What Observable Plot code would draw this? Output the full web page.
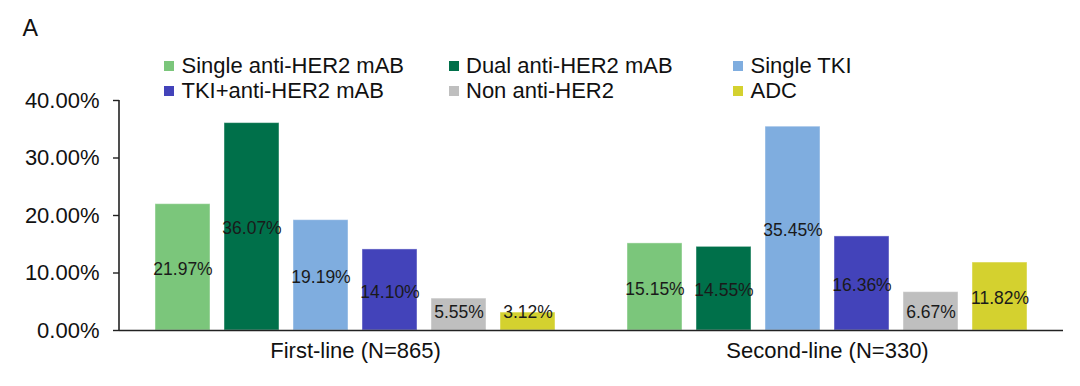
<!DOCTYPE html>
<html>
<head>
<meta charset="utf-8">
<script src="https://cdn.jsdelivr.net/npm/d3@7"></script>
<script src="https://cdn.jsdelivr.net/npm/@observablehq/plot@0.6"></script>
<style>
  html, body { margin: 0; padding: 0; background: #fff; }
  body { width: 1080px; height: 386px; overflow: hidden; font-family: "Liberation Sans", Arial, sans-serif; color: #111; }
  #wrap { position: relative; width: 1080px; height: 386px; }
  #panel { position: absolute; left: 22.5px; top: 17px; font-size: 23.3px; line-height: 23px; }
  #legend { position: absolute; left: 164px; top: 53px; display: grid; grid-template-columns: repeat(3, 284.5px); grid-auto-rows: 25px; font-size: 22px; line-height: 25px; white-space: nowrap; }
  #legend .sw { display: inline-block; width: 10px; height: 10px; margin-right: 7.5px; vertical-align: 2px; }
  #chart { position: absolute; left: 0; top: 0; }
</style>
</head>
<body>
<div id="wrap">
  <div id="chart"></div>
  <div id="panel">A</div>
  <div id="legend"></div>
</div>
<script>
// ---- data ----
const groups = ["First-line (N=865)", "Second-line (N=330)"];
const series = ["Single anti-HER2 mAB", "Dual anti-HER2 mAB", "Single TKI", "TKI+anti-HER2 mAB", "Non anti-HER2", "ADC"];
const firstLine = [21.97, 36.07, 19.19, 14.10, 5.55, 3.12];
const secondLine = [15.15, 14.55, 35.45, 16.36, 6.67, 11.82];
const colors = ["#7BC67B", "#00704A", "#7FADDF", "#4343BA", "#BFBFBF", "#D4D12F"];
const yTicks = [0, 10, 20, 30, 40];

const table = [];
series.forEach((s, i) => table.push({group: groups[0], series: s, value: firstLine[i]}));
series.forEach((s, i) => table.push({group: groups[1], series: s, value: secondLine[i]}));

const fmt = v => v.toFixed(2) + "%";
const font = '"Liberation Sans", Arial, sans-serif';

const plot = Plot.plot({
  width: 1080,
  height: 386,
  marginTop: 100,
  marginBottom: 56,
  marginLeft: 119,
  marginRight: 17,
  style: {fontFamily: font, fontSize: "22px", color: "#111", background: "transparent"},
  fx: {domain: groups, padding: 0, label: null, axis: "bottom", tickSize: 0, tickPadding: 12},
  x: {domain: series, axis: null, paddingInner: 0.2, paddingOuter: 0.48},
  y: {domain: [0, 40], ticks: yTicks, tickFormat: fmt, label: null, tickSize: 6, tickPadding: 14},
  color: {domain: series, range: colors},
  marks: [
    Plot.barY(table, {fx: "group", x: "series", y: "value", fill: "series", stroke: "white", strokeOpacity: 0.45, strokeWidth: 1}),
    Plot.ruleY([0], {stroke: "#222", strokeWidth: 1.6}),
    Plot.text(table, {fx: "group", x: "series", y: d => Math.max(d.value / 2, 3.5), text: d => fmt(d.value), fontSize: 17.5, fill: "#1a1a1a", dy: 2})
  ]
});

// vertical y-axis line, placed from the plot's own scales
const yS = plot.scale("y"), fxS = plot.scale("fx");
d3.select(plot).append("line")
  .attr("x1", fxS.apply(groups[0])).attr("x2", fxS.apply(groups[0]))
  .attr("y1", yS.apply(40)).attr("y2", yS.apply(0))
  .attr("stroke", "#222").attr("stroke-width", 1.6);
d3.select(plot).selectAll("g[aria-label='y-axis tick'] path, g[aria-label='y-axis tick'] line").attr("stroke", "#222").attr("stroke-width", 1.4);

document.getElementById("chart").appendChild(plot);

// legend: 2 rows x 3 columns, filled row-wise
const leg = document.getElementById("legend");
series.forEach((s, i) => {
  const item = document.createElement("div");
  item.innerHTML = `<span class="sw" style="background:${colors[i]}"></span>${s}`;
  leg.appendChild(item);
});
</script>
</body>
</html>
